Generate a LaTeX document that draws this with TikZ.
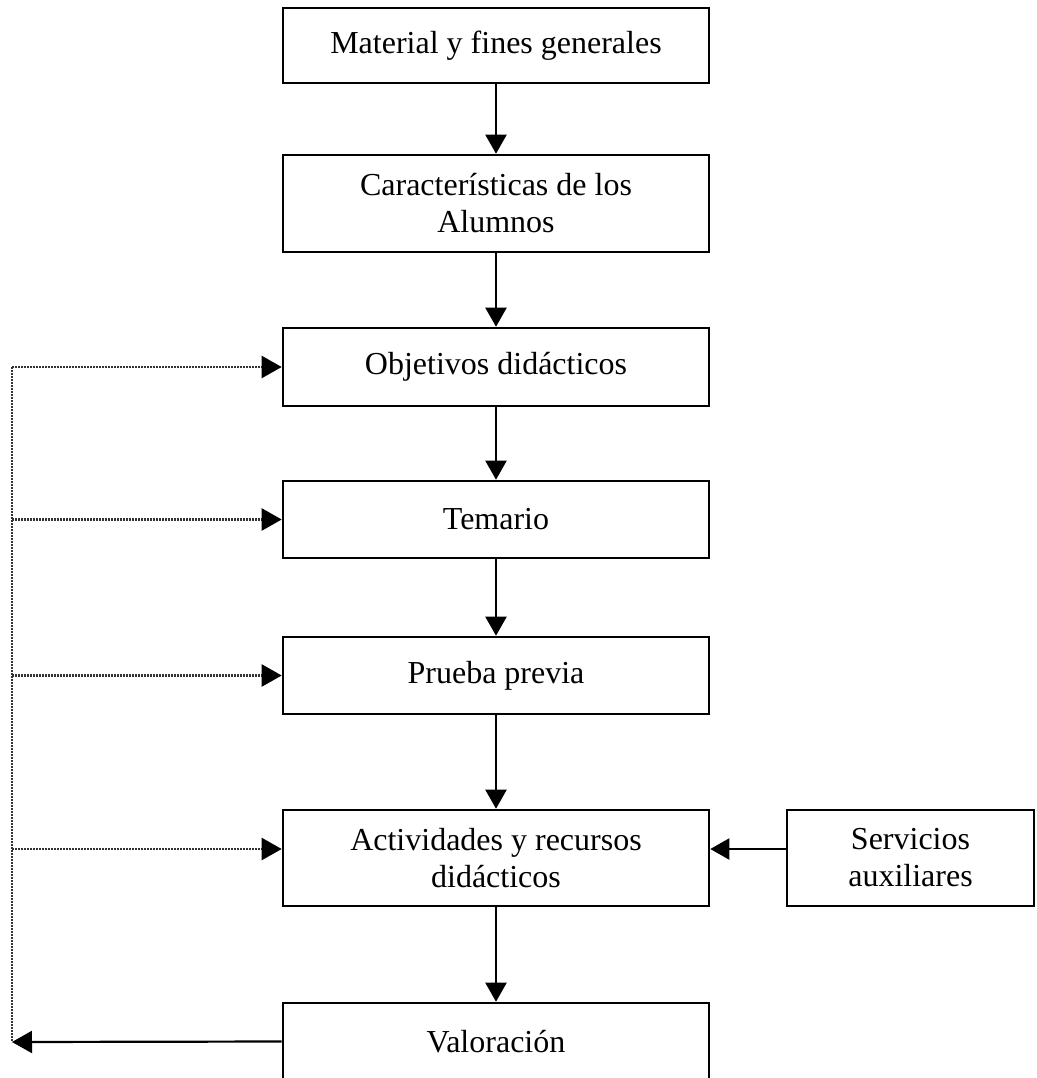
\documentclass[tikz,border=0pt]{standalone}
\usepackage{fontspec}
\setmainfont{Liberation Serif}
\usetikzlibrary{arrows.meta}
\begin{document}
\begin{tikzpicture}[x=1pt,y=-1pt,
  stagebox/.style={draw, line width=2.6pt, inner sep=0pt, minimum width=426pt,
    align=center, font=\fontsize{32}{37}\selectfont},
  flow/.style={line width=2.2pt, -{Triangle[length=19pt,width=21pt]}},
  feedback/.style={line width=2.2pt, black!80, dash pattern=on 1.8pt off 1.2pt},
  feedarrow/.style={feedback, -{Triangle[length=20pt,width=22pt,black]}}]
  \clip (0,0) rectangle (1036,1078);
  \fill[white] (0,0) rectangle (1036,1078);

  % main sequence of stages
  \node[stagebox, minimum height=75pt] (m1) at (496,45.5) {Material y fines generales};
  \node[stagebox, minimum height=97pt] (m2) at (496,203.5) {Características de los\\Alumnos};
  \node[stagebox, minimum height=78pt] (m3) at (496,367) {Objetivos didácticos};
  \node[stagebox, minimum height=77pt] (m4) at (496,519.5) {Temario};
  \node[stagebox, minimum height=77pt] (m5) at (496,675.5) {Prueba previa};
  \node[stagebox, minimum height=96pt] (m6) at (496,858) {Actividades y recursos\\didácticos};
  \node[stagebox, minimum height=77pt] (m7) at (496,1041.5) {Valoración};
  % side input
  \node[stagebox, minimum width=247pt, minimum height=96pt] (sv) at (910.5,858) {Servicios\\auxiliares};

  % downward flow
  \draw[flow] (m1) -- (m2);
  \draw[flow] (m2) -- (m3);
  \draw[flow] (m3) -- (m4);
  \draw[flow] (m4) -- (m5);
  \draw[flow] (m5) -- (m6);
  \draw[flow] (m6) -- (m7);
  \draw[flow] ([yshift=9pt]sv.west) -- ([yshift=9pt]m6.east);

  % feedback rail on the left
  \coordinate (railtop) at (12,367);
  \coordinate (railbot) at (12,1042);
  \draw[feedback] (railtop) -- (railbot);
  \draw[feedarrow] (railtop) -- (m3.west);
  \draw[feedarrow] (railtop |- m4.west) -- (m4.west);
  \draw[feedarrow] (railtop |- m5.west) -- (m5.west);
  \draw[feedarrow] ([yshift=9pt]m6.west -| railtop) -- ([yshift=9pt]m6.west);
  \draw[line width=2.2pt, -{Triangle[length=20pt,width=22pt]}] (m7.west) -- (railbot);
\end{tikzpicture}
\end{document}
